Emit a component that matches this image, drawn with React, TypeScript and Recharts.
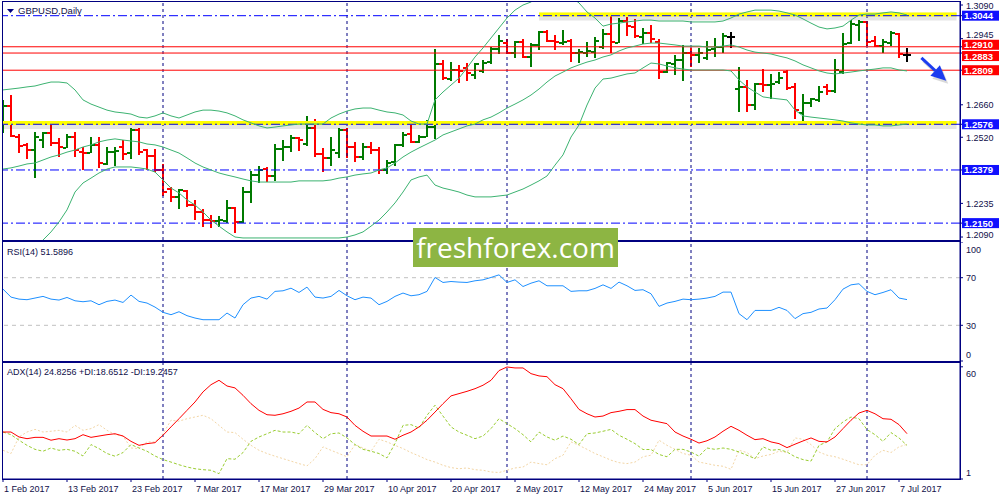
import React from 'react';
import { ComposedChart, Bar, Line, XAxis, YAxis, ReferenceLine } from 'recharts';

// GBPUSD daily, 1 Feb 2017 .. 10 Jul 2017 (trading days)
const dateLabels = [
  '1 Feb 2017', '13 Feb 2017', '23 Feb 2017', '7 Mar 2017', '17 Mar 2017',
  '29 Mar 2017', '10 Apr 2017', '20 Apr 2017', '2 May 2017', '12 May 2017',
  '24 May 2017', '5 Jun 2017', '15 Jun 2017', '27 Jun 2017', '7 Jul 2017',
];
const dateTickIdx = [0, 8, 16, 24, 32, 40, 48, 56, 64, 72, 80, 88, 96, 104, 112];
const monthStarts = [20, 43, 63, 86, 108];

const opens = [
  1.2573, 1.2655, 1.2521, 1.2487, 1.2465, 1.2508, 1.2538, 1.2495, 1.2474, 1.2521,
  1.2456, 1.2452, 1.2487, 1.2405, 1.2456, 1.2478, 1.2452, 1.2551, 1.2465, 1.2439,
  1.2379, 1.2297, 1.2263, 1.2289, 1.2228, 1.2198, 1.2163, 1.2159, 1.2159, 1.2215,
  1.2155, 1.2284, 1.2357, 1.2383, 1.2353, 1.2469, 1.2478, 1.2517, 1.2491, 1.2560,
  1.2448, 1.2431, 1.2452, 1.2551, 1.2478, 1.2435, 1.2478, 1.2465, 1.2379, 1.2413,
  1.2487, 1.2534, 1.2500, 1.2521, 1.2564, 1.2836, 1.2771, 1.2810, 1.2819, 1.2788,
  1.2806, 1.2844, 1.2900, 1.2926, 1.2883, 1.2931, 1.2866, 1.2918, 1.2974, 1.2935,
  1.2926, 1.2935, 1.2883, 1.2883, 1.2887, 1.2909, 1.2965, 1.2926, 1.3021, 1.2995,
  1.2952, 1.2969, 1.2931, 1.2801, 1.2836, 1.2853, 1.2883, 1.2875, 1.2862, 1.2900,
  1.2909, 1.2952, 1.2728, 1.2737, 1.2659, 1.2750, 1.2745, 1.2758, 1.2801, 1.2737,
  1.2625, 1.2668, 1.2681, 1.2737, 1.2719, 1.2801, 1.2926, 1.3004, 1.3017, 1.2935,
  1.2913, 1.2926, 1.2965, 1.2875,
];
const highs = [
  1.2681, 1.2702, 1.2534, 1.2495, 1.2543, 1.2543, 1.2577, 1.2517, 1.2534, 1.2543,
  1.2478, 1.2521, 1.2521, 1.2478, 1.2478, 1.2508, 1.2560, 1.2560, 1.2469, 1.2469,
  1.2405, 1.2306, 1.2297, 1.2293, 1.2250, 1.2211, 1.2185, 1.2181, 1.2250, 1.2219,
  1.2306, 1.2375, 1.2396, 1.2392, 1.2491, 1.2508, 1.2530, 1.2521, 1.2612, 1.2599,
  1.2474, 1.2521, 1.2560, 1.2560, 1.2500, 1.2495, 1.2500, 1.2478, 1.2422, 1.2491,
  1.2543, 1.2573, 1.2530, 1.2595, 1.2900, 1.2853, 1.2844, 1.2832, 1.2840, 1.2840,
  1.2853, 1.2909, 1.2961, 1.2943, 1.2935, 1.2943, 1.2926, 1.2978, 1.2982, 1.2961,
  1.2982, 1.2943, 1.2900, 1.2931, 1.2952, 1.2987, 1.3043, 1.3034, 1.3038, 1.3030,
  1.2991, 1.3004, 1.2943, 1.2844, 1.2875, 1.2918, 1.2905, 1.2905, 1.2935, 1.2948,
  1.2969, 1.2974, 1.2823, 1.2767, 1.2754, 1.2814, 1.2793, 1.2801, 1.2810, 1.2754,
  1.2707, 1.2689, 1.2741, 1.2750, 1.2857, 1.2969, 1.3025, 1.3025, 1.3021, 1.2956,
  1.2943, 1.2978, 1.2969, 1.2905,
];
const lows = [
  1.2538, 1.2521, 1.2452, 1.2426, 1.2344, 1.2474, 1.2482, 1.2435, 1.2474, 1.2435,
  1.2379, 1.2452, 1.2388, 1.2400, 1.2396, 1.2422, 1.2426, 1.2444, 1.2379, 1.2370,
  1.2267, 1.2241, 1.2211, 1.2219, 1.2163, 1.2133, 1.2129, 1.2133, 1.2150, 1.2107,
  1.2150, 1.2237, 1.2323, 1.2327, 1.2332, 1.2418, 1.2456, 1.2461, 1.2482, 1.2435,
  1.2370, 1.2396, 1.2431, 1.2431, 1.2413, 1.2422, 1.2448, 1.2362, 1.2362, 1.2396,
  1.2478, 1.2495, 1.2495, 1.2521, 1.2513, 1.2767, 1.2763, 1.2754, 1.2763, 1.2771,
  1.2797, 1.2836, 1.2879, 1.2879, 1.2862, 1.2862, 1.2823, 1.2896, 1.2931, 1.2896,
  1.2918, 1.2844, 1.2840, 1.2866, 1.2862, 1.2900, 1.2883, 1.2926, 1.2956, 1.2948,
  1.2922, 1.2926, 1.2771, 1.2797, 1.2788, 1.2763, 1.2823, 1.2840, 1.2853, 1.2866,
  1.2883, 1.2905, 1.2629, 1.2629, 1.2637, 1.2715, 1.2685, 1.2750, 1.2724, 1.2599,
  1.2582, 1.2650, 1.2672, 1.2702, 1.2711, 1.2793, 1.2922, 1.2935, 1.2913, 1.2909,
  1.2883, 1.2913, 1.2862, 1.2844,
];
const closes = [
  1.2655, 1.2525, 1.2482, 1.2465, 1.2521, 1.2538, 1.2495, 1.2478, 1.2521, 1.2465,
  1.2452, 1.2487, 1.2409, 1.2456, 1.2461, 1.2448, 1.2551, 1.2456, 1.2439, 1.2379,
  1.2284, 1.2263, 1.2293, 1.2228, 1.2198, 1.2163, 1.2159, 1.2163, 1.2215, 1.2155,
  1.2284, 1.2357, 1.2379, 1.2353, 1.2469, 1.2478, 1.2517, 1.2508, 1.2560, 1.2448,
  1.2431, 1.2465, 1.2551, 1.2478, 1.2435, 1.2478, 1.2465, 1.2379, 1.2409, 1.2487,
  1.2530, 1.2500, 1.2521, 1.2564, 1.2836, 1.2775, 1.2810, 1.2806, 1.2797, 1.2836,
  1.2840, 1.2900, 1.2935, 1.2883, 1.2931, 1.2866, 1.2918, 1.2974, 1.2935, 1.2931,
  1.2931, 1.2883, 1.2887, 1.2892, 1.2935, 1.2965, 1.2931, 1.3021, 1.2999, 1.2956,
  1.2969, 1.2943, 1.2801, 1.2840, 1.2853, 1.2883, 1.2875, 1.2883, 1.2896, 1.2909,
  1.2956, 1.2952, 1.2737, 1.2659, 1.2750, 1.2745, 1.2750, 1.2775, 1.2732, 1.2637,
  1.2668, 1.2685, 1.2715, 1.2719, 1.2810, 1.2922, 1.3008, 1.3017, 1.2931, 1.2913,
  1.2931, 1.2969, 1.2879, 1.2875,
];

// Bollinger bands (20)
const bbUpper = [
  1.2724, 1.2728, 1.2732, 1.2737, 1.2741, 1.2750, 1.2758, 1.2758, 1.2754, 1.2724,
  1.2681, 1.2663, 1.2650, 1.2637, 1.2629, 1.2625, 1.2620, 1.2607, 1.2603, 1.2612,
  1.2625, 1.2612, 1.2603, 1.2616, 1.2629, 1.2637, 1.2637, 1.2633, 1.2625, 1.2612,
  1.2595, 1.2582, 1.2569, 1.2560, 1.2564, 1.2569, 1.2573, 1.2577, 1.2577, 1.2577,
  1.2577, 1.2603, 1.2620, 1.2633, 1.2642, 1.2646, 1.2646, 1.2637, 1.2629, 1.2625,
  1.2616, 1.2590, 1.2577, 1.2577, 1.2681, 1.2715, 1.2745, 1.2775, 1.2819, 1.2866,
  1.2905, 1.2948, 1.2991, 1.3034, 1.3068, 1.3090, 1.3103, 1.3129, 1.3146, 1.3150,
  1.3142, 1.3125, 1.3099, 1.3060, 1.3034, 1.2999, 1.3008, 1.3012, 1.3017, 1.3021,
  1.3025, 1.3025, 1.3021, 1.3021, 1.3021, 1.3021, 1.3017, 1.3017, 1.3017, 1.3017,
  1.3021, 1.3034, 1.3051, 1.3060, 1.3068, 1.3068, 1.3068, 1.3064, 1.3056, 1.3047,
  1.3030, 1.3012, 1.2995, 1.2987, 1.2991, 1.2999, 1.3025, 1.3047, 1.3051, 1.3051,
  1.3056, 1.3060, 1.3056, 1.3047,
];
const bbMiddle = [
  1.2383, 1.2388, 1.2396, 1.2405, 1.2409, 1.2422, 1.2435, 1.2444, 1.2456, 1.2465,
  1.2478, 1.2487, 1.2500, 1.2508, 1.2513, 1.2508, 1.2504, 1.2500, 1.2491, 1.2487,
  1.2478, 1.2465, 1.2452, 1.2431, 1.2409, 1.2392, 1.2379, 1.2366, 1.2357, 1.2349,
  1.2340, 1.2332, 1.2327, 1.2327, 1.2327, 1.2327, 1.2327, 1.2332, 1.2332, 1.2332,
  1.2332, 1.2336, 1.2344, 1.2349, 1.2357, 1.2362, 1.2366, 1.2379, 1.2388, 1.2409,
  1.2435, 1.2456, 1.2474, 1.2491, 1.2508, 1.2530, 1.2543, 1.2556, 1.2569, 1.2577,
  1.2595, 1.2607, 1.2625, 1.2646, 1.2663, 1.2681, 1.2702, 1.2728, 1.2758, 1.2784,
  1.2801, 1.2819, 1.2832, 1.2844, 1.2853, 1.2866, 1.2875, 1.2892, 1.2905, 1.2913,
  1.2922, 1.2926, 1.2926, 1.2922, 1.2918, 1.2913, 1.2913, 1.2913, 1.2909, 1.2909,
  1.2913, 1.2918, 1.2909, 1.2896, 1.2887, 1.2883, 1.2879, 1.2870, 1.2862, 1.2849,
  1.2832, 1.2819, 1.2806, 1.2797, 1.2793, 1.2797, 1.2801, 1.2806, 1.2810, 1.2814,
  1.2819, 1.2819, 1.2810, 1.2806,
];
const bbLower = [
  1.1861, 1.1905, 1.1948, 1.1982, 1.2025, 1.2077, 1.2112, 1.2155, 1.2207, 1.2284,
  1.2323, 1.2344, 1.2366, 1.2383, 1.2392, 1.2392, 1.2392, 1.2388, 1.2383, 1.2370,
  1.2336, 1.2301, 1.2280, 1.2250, 1.2228, 1.2198, 1.2163, 1.2137, 1.2112, 1.2090,
  1.2086, 1.2086, 1.2086, 1.2086, 1.2086, 1.2086, 1.2086, 1.2086, 1.2086, 1.2086,
  1.2086, 1.2086, 1.2086, 1.2090, 1.2099, 1.2112, 1.2137, 1.2163, 1.2198, 1.2237,
  1.2284, 1.2336, 1.2349, 1.2357, 1.2314, 1.2301, 1.2293, 1.2284, 1.2271, 1.2263,
  1.2263, 1.2263, 1.2267, 1.2271, 1.2284, 1.2297, 1.2314, 1.2332, 1.2353, 1.2400,
  1.2444, 1.2521, 1.2573, 1.2659, 1.2732, 1.2771, 1.2775, 1.2784, 1.2793, 1.2797,
  1.2819, 1.2840, 1.2836, 1.2827, 1.2819, 1.2814, 1.2810, 1.2810, 1.2810, 1.2810,
  1.2810, 1.2806, 1.2767, 1.2737, 1.2715, 1.2694, 1.2689, 1.2685, 1.2681, 1.2637,
  1.2612, 1.2607, 1.2603, 1.2599, 1.2595, 1.2590, 1.2582, 1.2577, 1.2573, 1.2573,
  1.2569, 1.2569, 1.2573, 1.2577,
];

const rsi14 = [
  60.4, 53.7, 52.0, 51.5, 52.9, 54.3, 52.0, 51.2, 53.4, 50.6,
  49.8, 50.6, 47.3, 50.1, 51.2, 49.2, 55.4, 50.1, 48.7, 45.3,
  40.9, 38.9, 41.4, 38.1, 36.1, 34.7, 34.7, 34.7, 40.3, 36.1,
  47.3, 52.9, 54.3, 52.0, 58.5, 59.0, 61.2, 57.6, 62.1, 53.7,
  52.9, 54.3, 59.3, 54.8, 51.5, 53.7, 52.9, 47.3, 50.1, 54.3,
  57.1, 54.8, 55.7, 58.5, 70.2, 66.0, 66.8, 66.3, 66.0, 67.4,
  68.2, 70.2, 72.4, 66.0, 68.2, 62.6, 65.4, 67.4, 63.2, 63.2,
  63.2, 58.5, 59.0, 59.0, 61.0, 64.0, 61.0, 66.3, 63.2, 59.3,
  59.9, 56.5, 45.9, 48.7, 50.1, 52.0, 51.5, 52.0, 52.9, 54.3,
  57.9, 57.9, 39.8, 34.7, 42.5, 42.5, 42.5, 45.1, 42.5, 35.6,
  39.8, 40.9, 43.7, 44.5, 51.5, 60.4, 64.0, 64.9, 58.5, 55.7,
  57.6, 59.9, 52.9, 51.59,
];

const adx14 = [
  25.7, 25.7, 23.1, 22.2, 22.9, 22.9, 21.4, 22.2, 21.5, 22.2,
  24.3, 22.9, 23.6, 24.3, 24.8, 23.6, 20.8, 18.7, 19.6, 20.1,
  24.0, 28.4, 32.7, 37.1, 41.5, 46.8, 50.6, 52.9, 49.9, 48.9,
  45.0, 40.6, 37.1, 34.8, 34.5, 35.3, 36.6, 38.3, 41.5, 41.5,
  37.6, 35.9, 35.3, 33.6, 29.2, 26.1, 23.6, 23.6, 23.6, 21.9,
  24.0, 25.7, 28.4, 31.9, 36.2, 40.6, 44.7, 45.9, 47.1, 48.5,
  50.3, 52.9, 58.0, 59.9, 59.4, 59.4, 56.4, 55.2, 54.8, 50.6,
  48.5, 43.2, 37.6, 35.3, 33.6, 34.1, 35.9, 36.6, 37.5, 37.5,
  34.1, 31.9, 31.0, 30.1, 25.7, 23.6, 21.9, 19.9, 21.1, 23.1,
  26.1, 28.7, 26.6, 24.0, 21.7, 22.2, 20.5, 19.6, 17.5, 19.3,
  21.0, 22.6, 20.8, 20.5, 23.1, 27.5, 31.9, 35.7, 37.1, 35.3,
  32.7, 32.4, 29.6, 24.83,
];
const plusDi = [
  25.7, 24.3, 21.4, 18.7, 16.6, 15.6, 17.3, 16.1, 16.6, 15.6,
  13.1, 19.1, 17.0, 14.4, 13.0, 14.9, 19.1, 17.3, 15.6, 13.1,
  11.2, 9.9, 8.5, 7.3, 6.4, 5.9, 5.6, 3.8, 11.7, 11.4,
  14.9, 20.8, 23.1, 24.8, 26.6, 25.7, 25.7, 24.8, 29.2, 25.4,
  22.2, 24.8, 25.2, 22.6, 19.1, 16.6, 15.6, 14.4, 12.1, 19.6,
  29.2, 29.6, 27.8, 34.5, 39.8, 34.1, 28.4, 25.7, 24.0, 22.2,
  23.6, 27.5, 32.7, 30.1, 27.5, 24.3, 20.5, 25.7, 23.1, 21.4,
  23.6, 21.9, 19.1, 24.8, 25.2, 26.1, 27.1, 24.0, 21.9, 19.6,
  16.5, 16.5, 13.9, 12.7, 16.6, 16.6, 15.2, 13.0, 17.3, 16.6,
  17.3, 16.6, 15.2, 13.5, 11.7, 17.9, 16.1, 16.5, 15.2, 12.7,
  11.2, 10.4, 18.7, 20.5, 27.5, 31.0, 33.6, 32.7, 27.0, 24.3,
  20.8, 25.4, 22.6, 18.65,
];
const minusDi = [
  16.1, 14.4, 23.1, 25.7, 27.1, 25.7, 26.1, 26.6, 25.7, 29.2,
  26.6, 27.5, 29.6, 26.6, 24.3, 23.6, 17.3, 17.0, 20.5, 20.5,
  24.8, 31.9, 31.4, 32.7, 33.6, 34.5, 32.7, 29.2, 25.7, 25.4,
  21.9, 18.7, 16.1, 14.4, 13.0, 11.7, 10.4, 9.1, 7.9, 11.7,
  17.9, 16.1, 14.4, 12.7, 19.1, 17.3, 15.6, 21.9, 20.5, 18.7,
  17.0, 14.9, 13.1, 11.2, 9.9, 8.2, 7.0, 6.4, 6.8, 5.9,
  5.6, 4.7, 4.4, 5.6, 6.8, 7.3, 9.9, 9.1, 8.5, 11.7,
  13.5, 20.5, 18.7, 16.6, 14.4, 12.7, 10.9, 9.6, 9.1, 9.9,
  12.7, 13.5, 21.4, 18.7, 16.6, 14.4, 13.5, 9.9, 9.1, 8.2,
  7.7, 6.1, 16.1, 14.9, 11.7, 13.1, 13.9, 15.6, 14.9, 22.6,
  21.9, 19.1, 15.2, 13.5, 12.7, 11.4, 9.9, 8.5, 8.5, 13.5,
  16.1, 14.9, 17.9, 19.25,
];

const priceTicks = [1.309, 1.2945, 1.266, 1.252, 1.2235, 1.209];
const blueLevels = [1.3044, 1.2576, 1.2379, 1.215];
const redLevels = [1.291, 1.2883, 1.2809];
const rsiTicks = [100, 70, 30, 0];
const adxTicks = [60, 1];

const X_MAX = 119.625; // 957px / 8px per bar
const PRICE_MIN = 1.20772;
const PRICE_MAX = 1.3103;
const NAVY = '#000080';
const FONT = '"Liberation Sans", Arial, sans-serif';
const TXT = '#10104a';

// small vertical shifts so crowded axis labels stay readable
const labelShift: Record<string, number> = { '1.2945': -4.5, '1.2910': -2, '1.2883': 3, '1.2090': -3 };

const rows = opens.map((o, i) => ({
  idx: i,
  open: o,
  high: highs[i],
  low: lows[i],
  close: closes[i],
  range: [lows[i], highs[i]],
  up: bbUpper[i],
  mid: bbMiddle[i],
  lo: bbLower[i],
  rsi: rsi14[i],
  adx: adx14[i],
  pdi: plusDi[i],
  mdi: minusDi[i],
}));

// MT4 style OHLC bar
const OhlcBar = (props: any) => {
  const { x, y, width, height, payload } = props;
  if (!payload || height == null) return null;
  const cx = Math.round(x + width / 2);
  const k = payload.high > payload.low ? height / (payload.high - payload.low) : 0;
  const yo = Math.round(y + (payload.high - payload.open) * k);
  const yc = Math.round(y + (payload.high - payload.close) * k);
  const color =
    payload.close > payload.open ? '#007a00' : payload.close < payload.open ? '#ff0000' : '#000000';
  return (
    <g stroke={color} shapeRendering="crispEdges">
      <line x1={cx} x2={cx} y1={y} y2={y + height} strokeWidth={2} />
      <line x1={cx - 4} x2={cx - 1} y1={yo} y2={yo} strokeWidth={2} />
      <line x1={cx + 1} x2={cx + 4} y1={yc} y2={yc} strokeWidth={2} />
    </g>
  );
};

const priceTick = (p: any) => {
  const v = p.payload.value;
  const label = v.toFixed(4);
  const cy = p.y + (labelShift[label] || 0);
  const fill = blueLevels.includes(v) ? '#1010ff' : redLevels.includes(v) ? '#ff0000' : null;
  if (fill) {
    return (
      <g>
        <rect x={p.x - 4} y={cy - 5} width={37} height={10} fill={fill} />
        <text x={p.x - 2} y={cy + 3.5} fill="#fff" fontSize={9.5} fontWeight="bold" fontFamily={FONT}>
          {label}
        </text>
      </g>
    );
  }
  return (
    <text x={p.x} y={cy + 3.5} fill={TXT} fontSize={9} fontFamily={FONT}>
      {label}
    </text>
  );
};

const nudgedTick = (top: number, bottom: number) => (p: any) => {
  const v = p.payload.value;
  const dy = v === top ? 7 : v === bottom ? -7 : 0;
  return (
    <text x={p.x} y={p.y + 3.5 + dy} fill={TXT} fontSize={9} fontFamily={FONT}>
      {v}
    </text>
  );
};

const dateTick = (p: any) => {
  const k = dateTickIdx.indexOf(p.payload.value);
  return (
    <text x={p.x + 1} y={p.y + 8} fill={TXT} fontSize={9} fontFamily={FONT}>
      {dateLabels[k]}
    </text>
  );
};

const ArrowShape = (p: any) => {
  const { x1, y1, x2, y2 } = p;
  const ang = Math.atan2(y2 - y1, x2 - x1);
  const hl = 15;
  const hw = 7;
  const bx = x2 - hl * Math.cos(ang);
  const by = y2 - hl * Math.sin(ang);
  const nx = -Math.sin(ang) * hw;
  const ny = Math.cos(ang) * hw;
  const head = `${x2},${y2} ${bx + nx},${by + ny} ${bx - nx},${by - ny}`;
  return (
    <g>
      <g opacity={0.22} transform="translate(2,3)">
        <line x1={x1} y1={y1} x2={bx} y2={by} stroke="#555" strokeWidth={3} />
        <polygon points={head} fill="#555" />
      </g>
      <line x1={x1} y1={y1} x2={bx} y2={by} stroke="#1c3cf0" strokeWidth={3} />
      <polygon points={head} fill="#1c3cf0" />
    </g>
  );
};

const monthLines = (prefix: string) =>
  monthStarts.map((m) => (
    <ReferenceLine key={prefix + m} x={m} stroke={NAVY} strokeDasharray="3 3" />
  ));

export default function App() {
  return (
    <div
      style={{
        position: 'relative',
        width: 1000,
        height: 500,
        background: '#fff',
        overflow: 'hidden',
        fontFamily: FONT,
      }}
    >
      <style>{'body{margin:0}'}</style>

      {/* price window */}
      <div style={{ position: 'absolute', left: 0, top: 0 }}>
        <ComposedChart width={1000} height={241} data={rows} margin={{ top: 2, right: 3, bottom: 1, left: 3 }}>
          <XAxis type="number" dataKey="idx" domain={[0, X_MAX]} allowDataOverflow hide />
          <YAxis
            orientation="right"
            width={37}
            domain={[PRICE_MIN, PRICE_MAX]}
            allowDataOverflow
            ticks={[...priceTicks, ...blueLevels, ...redLevels]}
            interval={0}
            tickSize={3}
            tickMargin={3}
            axisLine={{ stroke: NAVY }}
            tickLine={{ stroke: NAVY }}
            tick={priceTick}
          />
          {monthLines('p')}
          <ReferenceLine
            segment={[{ x: 0, y: 1.2573 }, { x: 119.2, y: 1.2573 }]}
            stroke="rgba(0,0,0,0.10)"
            strokeWidth={8}
          />
          <ReferenceLine
            segment={[{ x: 67, y: 1.304 }, { x: 119.2, y: 1.304 }]}
            stroke="rgba(0,0,0,0.10)"
            strokeWidth={8}
          />
          <ReferenceLine
            segment={[{ x: 0, y: 1.2582 }, { x: 119.2, y: 1.2582 }]}
            stroke="#ffff00"
            strokeWidth={4}
          />
          <ReferenceLine
            segment={[{ x: 67, y: 1.3049 }, { x: 119.2, y: 1.3049 }]}
            stroke="#ffff00"
            strokeWidth={4}
          />
          {blueLevels.map((v) => (
            <ReferenceLine key={'b' + v} y={v} stroke="#0000ff" strokeDasharray="9 3 2 3" />
          ))}
          {redLevels.map((v) => (
            <ReferenceLine key={'r' + v} y={v} stroke="#ff0000" />
          ))}
          <Line dataKey="up" stroke="#3cb371" dot={false} activeDot={false} isAnimationActive={false} />
          <Line dataKey="mid" stroke="#3cb371" dot={false} activeDot={false} isAnimationActive={false} />
          <Line dataKey="lo" stroke="#3cb371" dot={false} activeDot={false} isAnimationActive={false} />
          <Bar dataKey="range" barSize={3} shape={OhlcBar} isAnimationActive={false} />
          <ReferenceLine
            segment={[{ x: 114.8, y: 1.2862 }, { x: 117.9, y: 1.2764 }]}
            shape={ArrowShape}
          />
        </ComposedChart>
      </div>

      {/* RSI window */}
      <div style={{ position: 'absolute', left: 0, top: 242 }}>
        <ComposedChart width={1000} height={120} data={rows} margin={{ top: 0, right: 3, bottom: 1, left: 3 }}>
          <XAxis type="number" dataKey="idx" domain={[0, X_MAX]} allowDataOverflow hide />
          <YAxis
            orientation="right"
            width={37}
            domain={[0, 100]}
            ticks={rsiTicks}
            interval={0}
            tickSize={3}
            tickMargin={3}
            axisLine={{ stroke: NAVY }}
            tickLine={{ stroke: NAVY }}
            tick={nudgedTick(100, 0)}
          />
          {monthLines('r')}
          <ReferenceLine y={70} stroke="#c0c0c0" strokeDasharray="4 4" />
          <ReferenceLine y={30} stroke="#c0c0c0" strokeDasharray="4 4" />
          <Line dataKey="rsi" stroke="#1e90ff" dot={false} activeDot={false} isAnimationActive={false} />
        </ComposedChart>
      </div>

      {/* ADX window */}
      <div style={{ position: 'absolute', left: 0, top: 363 }}>
        <ComposedChart width={1000} height={137} data={rows} margin={{ top: 0, right: 3, bottom: 0, left: 3 }}>
          <XAxis
            type="number"
            dataKey="idx"
            domain={[0, X_MAX]}
            allowDataOverflow
            ticks={dateTickIdx}
            interval={0}
            height={21}
            tickSize={3}
            tickMargin={2}
            axisLine={{ stroke: NAVY }}
            tickLine={{ stroke: NAVY }}
            tick={dateTick}
          />
          <YAxis
            orientation="right"
            width={37}
            domain={[1, 62]}
            ticks={adxTicks}
            interval={0}
            tickSize={3}
            tickMargin={3}
            axisLine={{ stroke: NAVY }}
            tickLine={{ stroke: NAVY }}
            tick={nudgedTick(60, 1)}
          />
          {monthLines('a')}
          <Line dataKey="mdi" stroke="#f3d6a6" strokeDasharray="2 2" dot={false} activeDot={false} isAnimationActive={false} />
          <Line dataKey="pdi" stroke="#9acd32" strokeDasharray="3 2" dot={false} activeDot={false} isAnimationActive={false} />
          <Line dataKey="adx" stroke="#ff0000" dot={false} activeDot={false} isAnimationActive={false} />
        </ComposedChart>
      </div>

      {/* window frames */}
      <div style={{ position: 'absolute', left: 2, top: 1, width: 959, height: 240, border: `1px solid ${NAVY}`, boxSizing: 'border-box', pointerEvents: 'none' }} />
      <div style={{ position: 'absolute', left: 2, top: 241, width: 959, height: 121, border: `1px solid ${NAVY}`, boxSizing: 'border-box', pointerEvents: 'none' }} />
      <div style={{ position: 'absolute', left: 2, top: 362, width: 959, height: 118, border: `1px solid ${NAVY}`, boxSizing: 'border-box', pointerEvents: 'none' }} />

      {/* window captions */}
      <svg style={{ position: 'absolute', left: 7, top: 9 }} width={8} height={5}>
        <polygon points="0,0 7,0 3.5,4" fill={NAVY} />
      </svg>
      <div style={{ position: 'absolute', left: 18, top: 5, fontSize: 9.5, lineHeight: '12px', color: TXT }}>
        GBPUSD,Daily
      </div>
      <div style={{ position: 'absolute', left: 7, top: 246, fontSize: 9, lineHeight: '12px', color: TXT }}>
        RSI(14) 51.5896
      </div>
      <div style={{ position: 'absolute', left: 7, top: 366, fontSize: 9, lineHeight: '12px', color: TXT }}>
        ADX(14) 24.8256 +DI:18.6512 -DI:19.2457
      </div>

      {/* watermark */}
      <div
        style={{
          position: 'absolute',
          left: 413,
          top: 228,
          width: 205,
          height: 39,
          background: '#8db543',
          color: '#fff',
          fontFamily: '"Open Sans", sans-serif',
          fontSize: 28,
          lineHeight: '38px',
          textAlign: 'center',
        }}
      >
        freshforex.com
      </div>
    </div>
  );
}
